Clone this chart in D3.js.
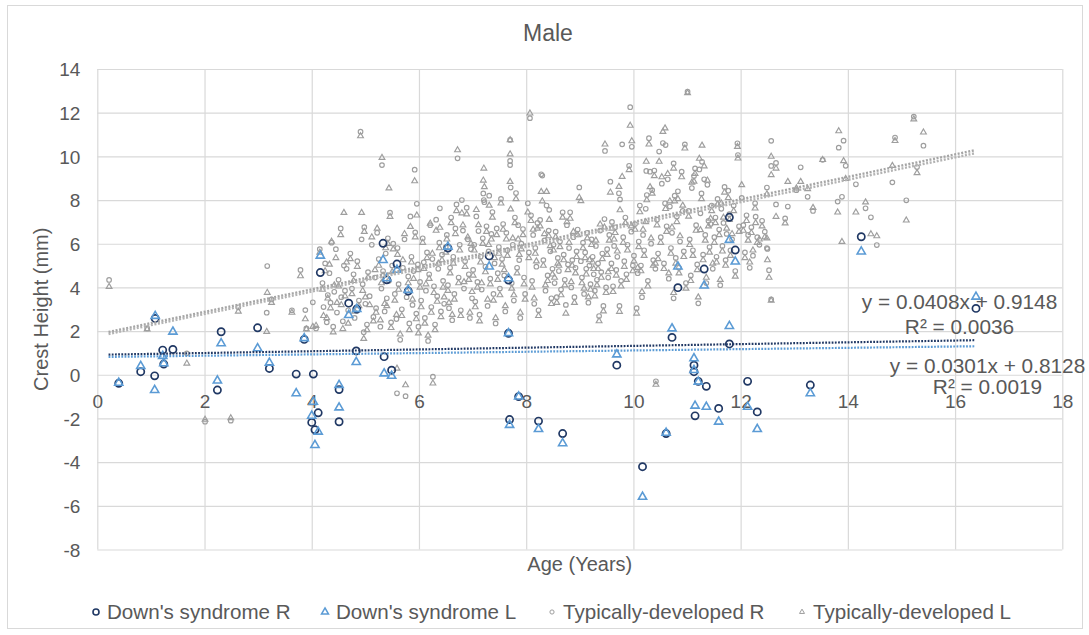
<!DOCTYPE html>
<html>
<head>
<meta charset="utf-8">
<title>Male</title>
<script src="https://cdn.jsdelivr.net/npm/d3@7/dist/d3.min.js"></script>
<style>
  html, body { margin: 0; padding: 0; background: #fff; }
  svg text { font-family: "Liberation Sans", Arial, Helvetica, sans-serif; fill: #595959; }
</style>
</head>
<body>
<svg id="chart" width="1089" height="635"></svg>
<script>
// ---- axis ticks ----
const xTicks = [0, 2, 4, 6, 8, 10, 12, 14, 16, 18];
const yTicks = [-8, -6, -4, -2, 0, 2, 4, 6, 8, 10, 12, 14];

// ---- series names ----
const seriesNames = ["Down's syndrome R", "Down's syndrome L", "Typically-developed R", "Typically-developed L"];

// ---- Down's syndrome group: age (years), right and left crest height (mm) ----
const dsAge = [0.40, 0.81, 1.07, 1.08, 1.22, 1.24, 1.41, 2.24, 2.31, 2.99, 3.21, 3.71, 3.86, 4.00, 4.03, 4.06, 4.12, 4.16,
  4.51, 4.51, 4.69, 4.83, 4.84, 5.33, 5.35, 5.40, 5.49, 5.59, 5.80, 6.54, 7.31, 7.67, 7.67, 7.69, 7.86, 8.23, 8.68, 9.69,
  10.17, 10.61, 10.72, 10.83, 11.13, 11.13, 11.15, 11.21, 11.32, 11.36, 11.59, 11.79, 11.79, 11.90, 12.13, 12.31, 13.30, 14.25, 16.39];
const dsRight = [-0.39, 0.14, -0.05, 2.58, 1.13, 0.49, 1.16, -0.70, 1.97, 2.15, 0.29, 0.03, 1.62, -2.18, 0.03, -2.52, -1.74, 4.68,
  -0.68, -2.15, 3.28, 1.09, 3.01, 6.02, 0.83, 4.35, 0.21, 5.07, 3.83, 5.80, 5.44, 4.34, 1.90, -2.05, -1.00, -2.12, -2.69, 0.44,
  -4.21, -2.69, 1.71, 3.99, 0.44, 0.14, -1.88, -0.30, 4.84, -0.53, -1.54, 7.21, 1.41, 5.71, -0.30, -1.70, -0.47, 6.32, 3.04];
const dsLeft = [-0.37, 0.40, -0.70, 2.69, 0.86, 0.52, 1.97, -0.27, 1.44, 1.21, 0.55, -0.85, 1.67, -1.88, -1.24, -3.22, -2.61, 5.45,
  -0.47, -1.50, 2.73, 0.58, 3.01, 5.25, 0.06, 4.41, -0.05, 4.80, 3.88, 5.86, 4.95, 4.41, 1.90, -2.30, -1.00, -2.49, -3.14, 0.93,
  -5.59, -2.66, 2.12, 4.95, 0.75, 0.21, -1.42, -0.32, 4.08, -1.47, -2.15, 6.17, 2.23, 5.18, -1.47, -2.49, -0.85, 5.64, 3.57];

// ---- typically-developed group: age (years), right and left crest height (mm) ----
const tdAge = [
  0.22, 0.93, 1.67, 2.01, 2.49, 2.63, 3.16, 3.17, 3.25, 3.63, 3.79, 3.88, 3.90, 4.02, 4.08,
  4.15, 4.20, 4.22, 4.25, 4.28, 4.30, 4.33, 4.35, 4.37, 4.40, 4.42, 4.45, 4.47, 4.50, 4.54, 4.55, 4.58, 4.60, 4.62,
  4.65, 4.68, 4.72, 4.75, 4.78, 4.80, 4.85, 4.88, 4.91, 4.93, 4.95, 4.97, 4.98, 5.00, 5.03, 5.05,
  5.08, 5.12, 5.15, 5.18, 5.20, 5.22, 5.25, 5.28, 5.30, 5.31, 5.33, 5.36, 5.38, 5.40, 5.42, 5.44, 5.46, 5.48, 5.50,
  5.52, 5.55, 5.58, 5.59, 5.60, 5.62, 5.65, 5.68, 5.70, 5.73, 5.75, 5.77, 5.80, 5.82, 5.84, 5.86, 5.88, 5.90, 5.92, 5.93, 5.95, 5.96, 5.98, 5.99,
  6.02, 6.04, 6.07, 6.09, 6.11, 6.13, 6.15, 6.17, 6.19, 6.21, 6.23, 6.25, 6.26, 6.28, 6.30, 6.32, 6.34, 6.36, 6.38, 6.39, 6.41, 6.43, 6.45, 6.47,
  6.50, 6.52, 6.54, 6.56, 6.58, 6.60, 6.62, 6.64, 6.66, 6.68, 6.70, 6.72, 6.74, 6.76, 6.78, 6.80, 6.82, 6.84, 6.86, 6.89, 6.91, 6.93, 6.95, 6.97, 6.99,
  7.01, 7.03, 7.05, 7.07, 7.09, 7.11, 7.13, 7.15, 7.17, 7.19, 7.20, 7.21, 7.22, 7.24, 7.26, 7.28, 7.30, 7.31, 7.33, 7.35, 7.37, 7.39, 7.41, 7.43, 7.45, 7.47, 7.49,
  7.51, 7.53, 7.55, 7.57, 7.59, 7.61, 7.63, 7.65, 7.70, 7.70, 7.70, 7.71, 7.73, 7.75, 7.77, 7.79, 7.81, 7.83, 7.85, 7.87, 7.89, 7.91, 7.94, 7.96, 7.98,
  8.03, 8.05, 8.07, 8.09, 8.11, 8.13, 8.15, 8.17, 8.19, 8.21, 8.23, 8.26, 8.28, 8.30, 8.32, 8.34, 8.36, 8.38, 8.40, 8.42, 8.43, 8.45, 8.47, 8.49,
  8.51, 8.53, 8.55, 8.57, 8.59, 8.61, 8.63, 8.65, 8.68, 8.70, 8.72, 8.74, 8.76, 8.78, 8.80, 8.82, 8.84, 8.86, 8.88, 8.90, 8.92, 8.94, 8.96, 8.99,
  9.02, 9.04, 9.06, 9.08, 9.10, 9.12, 9.14, 9.16, 9.18, 9.20, 9.22, 9.24, 9.26, 9.28, 9.30, 9.32, 9.34, 9.36, 9.38, 9.40, 9.42, 9.44, 9.46, 9.47, 9.49,
  9.51, 9.53, 9.55, 9.57, 9.59, 9.60, 9.62, 9.64, 9.66, 9.68, 9.70, 9.73, 9.74, 9.75, 9.77, 9.79, 9.81, 9.83, 9.85, 9.87, 9.89, 9.92, 9.94, 9.96, 9.97, 9.99,
  10.01, 10.03, 10.06, 10.08, 10.10, 10.12, 10.14, 10.16, 10.18, 10.20, 10.23, 10.24, 10.25, 10.27, 10.29, 10.31, 10.33, 10.35, 10.37, 10.39, 10.41, 10.42, 10.44, 10.46, 10.48,
  10.51, 10.53, 10.55, 10.57, 10.59, 10.60, 10.62, 10.64, 10.66, 10.68, 10.70, 10.72, 10.75, 10.75, 10.77, 10.79, 10.81, 10.83, 10.85, 10.87, 10.90, 10.92, 10.94, 10.96, 10.98, 11.01,
  11.03, 11.05, 11.07, 11.09, 11.11, 11.13, 11.15, 11.17, 11.19, 11.21, 11.23, 11.25, 11.27, 11.28, 11.30, 11.32, 11.34, 11.36, 11.38, 11.40, 11.42, 11.44, 11.46, 11.48,
  11.51, 11.53, 11.55, 11.57, 11.60, 11.62, 11.64, 11.66, 11.68, 11.70, 11.72, 11.74, 11.77, 11.79, 11.81, 11.84, 11.87, 11.90, 11.94, 11.95, 11.97,
  12.02, 12.05, 12.08, 12.11, 12.14, 12.17, 12.20, 12.23, 12.27, 12.28, 12.31, 12.35, 12.40, 12.45, 12.49, 12.49, 12.50, 12.53, 12.57, 12.57, 12.57, 12.66, 12.66, 12.83, 12.88,
  13.04, 13.12, 13.25, 13.35, 13.53, 13.81, 13.83, 13.89, 13.92, 13.96, 14.15, 14.33, 14.43, 14.54, 14.83, 14.88, 15.09, 15.23, 15.29, 15.41];
const tdRight = [
  4.34, 2.12, 0.98, -2.15, -2.10, 3.09, 2.84, 4.98, 3.45, 2.95, 4.80, 2.96, 2.12, 3.32, 2.12,
  5.75, 4.20, 3.10, 5.10, 2.40, 3.65, 4.65, 3.30, 6.05, 2.20, 3.80, 5.75, 2.85, 4.35, 6.70, 3.55, 2.45, 5.00, 3.85,
  4.85, 2.95, 5.55, 3.95, 4.60, 2.60, 5.20, 3.40, 11.13, 6.20, 4.15, 1.95, 6.76, 3.25, 2.30, 4.70,
  3.60, 5.95, 2.65, 4.45, 3.05, 6.50, 5.30, 2.20, 3.95, 9.60, 4.75, 2.90, 5.55, 3.50, 6.25, 4.30, 7.42, 2.40, 5.00,
  6.00, 3.70, 2.55, -0.85, 5.80, 4.15, 1.60, 3.00, 4.90, 6.20, -0.98, 3.55, 4.50, 2.35, 7.25, 5.40, 3.20, 4.75, 9.39, 6.52, 2.80, 7.83, 5.05, 2.20,
  4.25, 3.40, 6.25, 5.15, 2.60, 3.85, 5.60, 1.55, 4.60, 6.85, 3.10, 5.30, -0.09, 4.05, 2.30, 7.10, 3.60, 4.85, 6.05, 7.62, 2.90, 5.50, 4.30, 3.25,
  5.85, 6.40, 4.10, 3.05, 4.90, 7.20, 2.50, 5.40, 3.70, 6.70, 7.80, 9.91, 4.45, 5.95, 2.95, 8.00, 6.60, 3.95, 5.20, 7.65, 6.20, 4.60, 2.60, 5.75, 3.50,
  4.80, 5.95, 3.35, 7.25, 4.25, 6.58, 2.75, 5.40, 3.90, 6.25, 8.30, 8.00, 7.90, 4.95, 6.80, 3.15, 5.65, 8.20, 4.40, 6.45, 7.45, 3.70, 5.10, 2.35, 6.70, 4.65, 5.85,
  3.95, 8.05, 5.30, 6.90, 4.55, 2.90, 6.50, 5.70, 10.75, 9.79, 9.60, 8.57, 4.20, 5.95, 3.40, 7.20, 8.32, 4.90, 6.85, 5.25, 2.60, 6.00, 6.67, 4.45, 3.70,
  7.85, 5.60, 11.75, 7.30, 4.30, 6.40, 3.25, 5.80, 4.95, 6.95, 2.95, 7.09, 9.18, 9.12, 5.25, 6.15, 3.85, 7.75, 4.55, 6.60, 7.55, 5.65, 3.50, 4.85,
  5.95, 4.20, 6.55, 3.55, 5.35, 4.75, 6.10, 3.90, 7.44, 5.50, 4.35, 3.20, 6.85, 5.05, 5.80, 7.44, 4.00, 5.25, 6.30, 3.55, 4.90, 5.65, 6.65, 8.58,
  5.20, 4.45, 6.05, 3.70, 5.60, 4.85, 6.50, 3.30, 5.00, 4.15, 6.20, 5.40, 4.60, 3.85, 5.90, 4.35, 5.10, 2.69, 6.60, 4.70, 5.55, 3.15, 7.13, 10.25, 4.00,
  5.75, 4.45, 6.40, 8.84, 5.10, 7.00, 4.05, 5.90, 6.75, 4.80, 5.40, 8.31, 3.15, 8.03, 4.30, 10.55, 6.30, 5.20, 7.20, 4.60, 5.95, 9.57, 12.25, 6.55, 10.44, 5.00,
  5.45, 6.90, 3.05, 4.65, 6.10, 7.75, 5.00, 3.55, 6.40, 5.70, 7.60, 9.33, 8.23, 4.30, 10.83, 9.30, 6.00, 8.45, 5.25, 9.35, 4.85, -0.30, 7.10, 5.55, 10.22,
  6.30, 8.75, 10.61, 5.10, 7.85, 10.52, 6.80, 8.95, 4.40, 7.70, 5.80, 6.50, 9.68, 3.50, 8.20, 5.35, 7.25, 8.40, 4.90, 6.10, 9.30, 7.50, 5.65, 10.55, 4.20, 12.96,
  7.50, 6.20, 4.55, 8.55, 5.70, 9.10, 9.45, 6.85, 5.05, 3.27, 9.40, 7.39, 8.30, 9.75, 5.50, 8.95, 6.40, 4.20, 8.70, 7.05, 5.85, 6.90, 7.75, 4.85,
  6.30, 7.20, 5.40, 8.05, 6.65, 4.10, 7.60, 5.90, 6.95, 8.60, 5.25, 6.45, 8.43, 7.35, 5.70, 6.20, 7.75, 4.75, 10.60, 10.06, 6.80,
  8.10, 6.85, 5.60, 7.30, 6.40, 4.90, 6.75, 5.45, 7.85, 7.24, 6.30, 5.95, 7.05, 6.55, 8.57, 5.80, 5.76, 4.79, 3.45, 10.71, 9.56, 9.70, 7.80, 7.16, 7.70,
  8.45, 9.50, 8.15, 7.50, 9.84, 7.93, 10.40, 8.15, 10.72, 9.57, 8.72, 7.62, 7.21, 5.94, 8.81, 10.86, 7.99, 11.82, 9.51, 10.49];
const tdLeft = [
  4.03, 2.08, 0.52, -2.05, -1.98, 2.90, 1.97, 3.76, 3.30, 2.85, 4.52, 2.55, 2.08, 2.20, 2.25,
  5.60, 3.90, 2.70, 4.75, 2.60, 3.50, 5.05, 3.05, 6.10, 1.95, 4.10, 5.35, 3.30, 4.05, 6.40, 3.20, 2.10, 7.42, 3.60,
  5.15, 2.35, 5.30, 3.70, 4.30, 2.90, 4.95, 3.15, 10.93, 7.42, 3.85, 1.65, 6.55, 3.55, 2.05, 4.45,
  3.20, 6.30, 2.45, 4.80, 2.85, 6.70, 5.00, 2.50, 4.20, 9.94, 4.55, 3.25, 5.80, 3.15, 6.00, 8.54, 7.24, 2.15, 4.70,
  5.75, 3.40, 2.75, 0.29, 5.50, 3.90, 1.85, 2.70, 5.25, 6.45, -0.47, 3.85, 4.20, 2.05, 6.78, 5.15, 3.45, 4.40, 8.87, 6.30, 2.55, 7.30, 4.80, 1.90,
  4.00, 3.10, 6.05, 4.85, 2.35, 4.15, 5.35, 1.80, 4.40, 6.93, 2.85, 5.55, -0.39, 3.75, 2.05, 6.60, 3.35, 5.10, 5.80, 6.74, 2.65, 5.25, 4.00, 3.55,
  5.60, 6.20, 3.85, 3.30, 4.65, 6.95, 2.75, 5.10, 3.45, 6.45, 7.50, 10.29, 4.20, 5.70, 2.70, 7.40, 6.85, 4.25, 4.95, 7.35, 6.30, 4.35, 2.85, 6.00, 3.80,
  4.55, 5.70, 3.10, 7.55, 4.00, 6.86, 2.45, 5.15, 4.20, 6.00, 8.90, 9.45, 8.60, 4.70, 6.55, 3.45, 5.95, 7.75, 4.15, 6.20, 7.20, 3.40, 5.35, 2.60, 6.40, 4.35, 5.55,
  3.65, 7.85, 5.05, 6.65, 4.80, 3.15, 6.20, 5.45, 10.75, 10.10, 8.84, 7.58, 3.95, 6.25, 3.65, 6.95, 8.05, 4.65, 6.20, 5.50, 2.85, 5.75, 6.40, 4.15, 3.45,
  7.44, 5.35, 11.97, 7.05, 4.00, 6.65, 3.50, 5.55, 5.20, 6.70, 2.70, 6.80, 8.38, 7.95, 5.00, 6.45, 4.10, 8.38, 4.30, 6.35, 7.10, 5.90, 3.25, 4.60,
  5.70, 4.45, 6.30, 3.30, 5.10, 5.00, 5.85, 3.65, 7.20, 5.25, 4.10, 2.81, 7.00, 4.80, 6.05, 7.15, 4.25, 5.00, 6.55, 3.30, 4.65, 5.40, 6.40, 8.11,
  7.96, 4.20, 5.80, 3.95, 5.35, 4.60, 6.25, 3.55, 5.25, 3.90, 5.95, 5.15, 4.85, 3.60, 6.15, 4.10, 4.85, 2.46, 6.89, 4.45, 5.30, 2.91, 6.75, 10.55, 3.75,
  5.50, 4.70, 6.15, 8.35, 4.85, 6.70, 3.80, 6.20, 6.50, 4.55, 5.65, 8.61, 2.89, 7.54, 4.05, 9.07, 6.05, 4.95, 6.95, 4.35, 5.70, 9.38, 11.41, 6.80, 10.70, 4.75,
  5.20, 6.65, 2.81, 4.90, 5.85, 7.45, 4.75, 3.80, 6.65, 5.45, 7.00, 9.76, 8.00, 4.05, 10.55, 8.60, 6.25, 8.30, 5.00, 9.10, 5.10, -0.45, 6.85, 5.30, 9.76,
  6.05, 9.05, 11.13, 4.85, 11.29, 7.60, 6.55, 9.20, 4.65, 7.95, 5.55, 6.75, 9.45, 3.75, 7.95, 5.10, 7.00, 8.05, 4.65, 6.35, 9.05, 7.75, 5.40, 10.37, 3.95, 12.90,
  7.25, 5.95, 4.30, 8.80, 5.45, 8.85, 9.20, 6.60, 4.80, 3.55, 9.90, 6.63, 8.05, 10.50, 5.25, 9.55, 6.15, 4.45, 8.90, 6.80, 5.60, 7.15, 7.50, 5.10,
  6.05, 6.95, 5.15, 7.80, 6.40, 4.35, 7.85, 5.65, 7.20, 8.35, 5.00, 6.70, 8.10, 7.10, 5.45, 6.45, 7.50, 4.50, 10.44, 9.91, 6.55,
  8.69, 6.60, 5.35, 7.05, 6.15, 5.15, 6.50, 5.70, 7.62, 6.95, 6.05, 6.20, 6.80, 6.30, 8.27, 6.25, 5.25, 4.45, 3.40, 9.99, 9.15, 9.45, 7.24, 6.94, 8.84,
  8.54, 8.84, 8.51, 7.65, 9.84, 7.44, 11.16, 6.09, 9.79, 8.97, 7.44, 7.90, 6.44, 6.35, 9.57, 10.71, 7.07, 11.70, 9.24, 11.10];

// ---- linear trend lines (slope, intercept) for each series, and the age span they cover ----
const trendSlopes = [0.0408, 0.0301, 0.515, 0.512];
const trendIntercepts = [0.9148, 0.8128, 1.85, 1.76];
const trendSpan = [0.21, 16.36];
const equationLines = [["y = 0.0408x + 0.9148", "R² = 0.0036"], ["y = 0.0301x + 0.8128", "R² = 0.0019"]];

// ---------------------------------------------------------------
const svg = d3.select("#chart");
const plot = { left: 97.3, right: 1062.3, top: 69, bottom: 549.5 };
const x = d3.scaleLinear().domain([0, 18]).range([plot.left, plot.right]);
const y = d3.scaleLinear().domain([-8, 14]).range([plot.bottom, plot.top]);

const palette = ["#203864", "#5B9BD5", "#9E9E9E", "#9E9E9E"];
const trendPalette = ["#203864", "#5B9BD5", "#A5A5A5", "#B3B3B3"];
const gridColor = "#D9D9D9";
const textColor = "#595959";

// chart area frame
svg.append("rect")
  .attr("x", 7.5).attr("y", 5.5).attr("width", 1075).attr("height", 623)
  .attr("fill", "#fff").attr("stroke", gridColor).attr("stroke-width", 1);

// title
svg.append("text")
  .attr("x", 548).attr("y", 41)
  .attr("text-anchor", "middle").attr("font-size", 23)
  .text("Male");

// horizontal gridlines + y tick labels
const yAxisG = svg.append("g")
  .attr("transform", `translate(${plot.left},0)`)
  .call(d3.axisLeft(y).tickValues(yTicks).tickSize(-(plot.right - plot.left)).tickPadding(17).tickFormat(d => String(d)));
yAxisG.select(".domain").remove();
yAxisG.selectAll("line").attr("stroke", gridColor).attr("stroke-width", 1.2);
yAxisG.selectAll("text").attr("font-size", 19).attr("fill", textColor).attr("dy", "0.35em");

// vertical gridlines
const xGridG = svg.append("g")
  .attr("transform", `translate(0,${plot.bottom})`)
  .call(d3.axisBottom(x).tickValues(xTicks).tickSize(-(plot.bottom - plot.top)).tickFormat(""));
xGridG.select(".domain").remove();
xGridG.selectAll("line").attr("stroke", gridColor).attr("stroke-width", 1.2);

// x tick labels hang from the zero line
const xAxisG = svg.append("g")
  .attr("transform", `translate(0,${y(0)})`)
  .call(d3.axisBottom(x).tickValues(xTicks).tickSize(0).tickPadding(20).tickFormat(d => String(d)));
xAxisG.select(".domain").remove();
xAxisG.selectAll("text").attr("font-size", 19).attr("fill", textColor);

// axis titles
svg.append("text")
  .attr("x", (plot.left + plot.right) / 2).attr("y", 571)
  .attr("text-anchor", "middle").attr("font-size", 20)
  .text("Age (Years)");
svg.append("text")
  .attr("transform", `translate(47.5,${(plot.top + plot.bottom) / 2}) rotate(-90)`)
  .attr("text-anchor", "middle").attr("font-size", 20)
  .text("Crest Height (mm)");

// ---- markers ----
const triangle = (side) => d3.symbol().type(d3.symbolTriangle).size(Math.sqrt(3) / 4 * side * side)();

function drawCircles(g, ages, vals, r, color, width) {
  g.selectAll(null).data(d3.range(Math.min(ages.length, vals.length))).join("circle")
    .attr("cx", i => x(ages[i])).attr("cy", i => y(vals[i])).attr("r", r)
    .attr("fill", "none").attr("stroke", color).attr("stroke-width", width);
}
function drawTriangles(g, ages, vals, side, color, width) {
  const p = triangle(side);
  g.selectAll(null).data(d3.range(Math.min(ages.length, vals.length))).join("path")
    .attr("d", p).attr("transform", i => `translate(${x(ages[i])},${y(vals[i])})`)
    .attr("fill", "none").attr("stroke", color).attr("stroke-width", width);
}

const marks = svg.append("g");
drawCircles(marks.append("g"), tdAge, tdRight, 2.3, palette[2], 1.15);
drawTriangles(marks.append("g"), tdAge, tdLeft, 5.8, palette[3], 1.15);

// trend lines
const trendG = svg.append("g");
function drawTrend(i, width, dash) {
  trendG.append("line")
    .attr("x1", x(trendSpan[0])).attr("y1", y(trendSlopes[i] * trendSpan[0] + trendIntercepts[i]))
    .attr("x2", x(trendSpan[1])).attr("y2", y(trendSlopes[i] * trendSpan[1] + trendIntercepts[i]))
    .attr("stroke", trendPalette[i]).attr("stroke-width", width).attr("stroke-dasharray", dash);
}
drawTrend(2, 2.4, "2,1.6");
drawTrend(3, 2.4, "2,1.6");

drawCircles(marks.append("g"), dsAge, dsRight, 3.6, palette[0], 1.7);
drawTriangles(marks.append("g"), dsAge, dsLeft, 8.2, palette[1], 1.6);

drawTrend(0, 2.2, "1.8,1.4");
drawTrend(1, 2.2, "1.8,1.4");

// trend equations
const eqAnchors = [[959.5, 308.5, 333.5], [987.5, 372.5, 393.5]];
equationLines.forEach((lines, k) => {
  svg.append("text").attr("x", eqAnchors[k][0]).attr("y", eqAnchors[k][1])
    .attr("text-anchor", "middle").attr("font-size", 20.8).text(lines[0]);
  svg.append("text").attr("x", eqAnchors[k][0]).attr("y", eqAnchors[k][2])
    .attr("text-anchor", "middle").attr("font-size", 20.8).text(lines[1]);
});

// ---- legend ----
const legendY = 612;
const legendMarkX = [96, 325, 552, 802];
const legendG = svg.append("g");
seriesNames.forEach((name, i) => {
  const mx = legendMarkX[i];
  if (i % 2 === 0) {
    legendG.append("circle").attr("cx", mx).attr("cy", legendY).attr("r", i === 0 ? 3 : 2.1)
      .attr("fill", "none").attr("stroke", palette[i]).attr("stroke-width", i === 0 ? 1.6 : 1);
  } else {
    legendG.append("path").attr("d", triangle(i === 1 ? 7 : 5))
      .attr("transform", `translate(${mx},${legendY})`)
      .attr("fill", "none").attr("stroke", palette[i]).attr("stroke-width", i === 1 ? 1.5 : 1);
  }
  legendG.append("text").attr("x", mx + 11).attr("y", legendY + 7)
    .attr("font-size", 20.6).text(name);
});
</script>
</body>
</html>
